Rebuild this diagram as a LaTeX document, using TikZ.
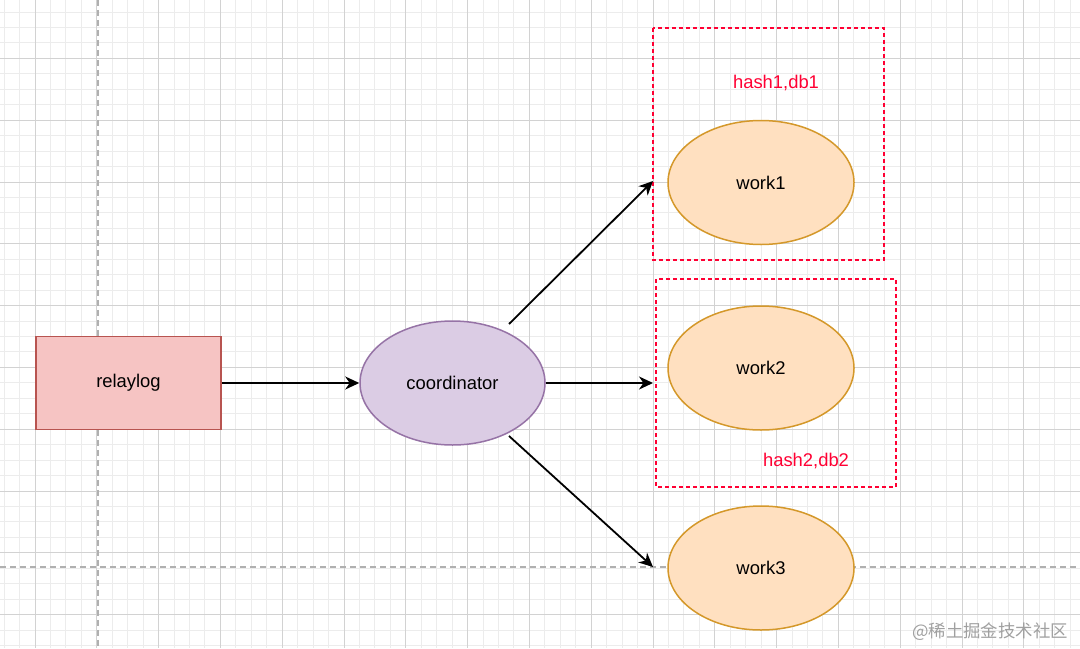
\documentclass[tikz,border=0pt]{standalone}
\usepackage{fontspec}
\setmainfont{Liberation Sans}
\newfontfamily\cjkfont{Noto Sans CJK SC}
\usetikzlibrary{arrows.meta,shapes.geometric}
\definecolor{gridminor}{HTML}{ECECEC}
\definecolor{gridmajor}{HTML}{D2D2D2}
\definecolor{guide}{HTML}{B0B0B0}
\definecolor{redfill}{HTML}{F6C4C3}
\definecolor{redline}{HTML}{B85450}
\definecolor{purfill}{HTML}{DBCCE4}
\definecolor{purline}{HTML}{9673A6}
\definecolor{orafill}{HTML}{FFE0C0}
\definecolor{oraline}{HTML}{D4982A}
\definecolor{hashred}{HTML}{FF0033}
\definecolor{wmark}{HTML}{A0A0A0}
\tikzset{
  minorline/.style={draw=gridminor, line width=0.5pt},
  majorline/.style={draw=gridmajor, line width=0.5pt},
  guideline/.style={draw=guide, line width=0.6pt, dash pattern=on 3pt off 2pt},
  ellnode/.style={ellipse, minimum width=93pt, minimum height=62pt, line width=0.75pt, font=\fontsize{9.2pt}{11pt}\selectfont, inner sep=0pt},
  worknode/.style={ellnode, draw=oraline, fill=orafill},
  groupbox/.style={draw=hashred, line width=0.6pt, dash pattern=on 2pt off 1.5pt},
  hashlabel/.style={text=hashred, font=\fontsize{9.2pt}{11pt}\selectfont},
  conn/.style={draw=black, line width=0.9pt, -{Stealth[length=7pt, width=6.5pt, inset=2.2pt]}},
}
\begin{document}
\begin{tikzpicture}[x=0.5pt, y=-0.5pt]
\useasboundingbox (0,0) rectangle (1080,648);
\fill[white] (0,0) rectangle (1080,648);
% grid
\foreach \i in {0,...,70} {\draw[minorline] ({4.1+15.45*\i},0) -- ++(0,648);}
\foreach \i in {0,...,42} {\draw[minorline] (0,{12.05+15.45*\i}) -- ++(1080,0);}
\foreach \i in {0,...,18} {\draw[majorline] ({-26.8+61.8*\i},0) -- ++(0,648);}
\foreach \i in {0,...,10} {\draw[majorline] (0,{-3.4+61.8*\i}) -- ++(1080,0);}
% guides
\draw[guideline] (98,0) -- (98,648);
\draw[guideline] (0,567) -- (1080,567);
% groups
\draw[groupbox] (653,28) rectangle (884,260);
\draw[groupbox] (656,279) rectangle (896,487);
\node[hashlabel] (h1) at (776,83) {hash1,db1};
\node[hashlabel] (h2) at (806,461) {hash2,db2};
% nodes
\node[draw=redline, fill=redfill, line width=0.75pt, minimum width=92.5pt, minimum height=46.5pt, inner sep=0pt, font=\fontsize{9.2pt}{11pt}\selectfont] (relay) at (128.5,383) {relaylog};
\node[ellnode, draw=purline, fill=purfill, minimum width=92.5pt] (coord) at (452.5,383) {coordinator};
\node[worknode] (w1) at (761,182.5) {work1};
\node[worknode] (w2) at (761,368) {work2};
\node[worknode] (w3) at (761,568) {work3};
% connector points
\coordinate (c1s) at (509,324);
\coordinate (c1e) at (653,181);
\coordinate (c2e) at (653,383);
\coordinate (c3s) at (509,436);
\coordinate (c3e) at (653,567);
\draw[conn] (relay.east) -- (coord.west);
\draw[conn] (c1s) -- (c1e);
\draw[conn] (coord.east) -- (c2e);
\draw[conn] (c3s) -- (c3e);
% watermark
\node[text=wmark, font=\cjkfont\fontsize{8.7pt}{10pt}\selectfont, anchor=east] (wm) at (1075,632) {@稀土掘金技术社区};
\end{tikzpicture}
\end{document}
